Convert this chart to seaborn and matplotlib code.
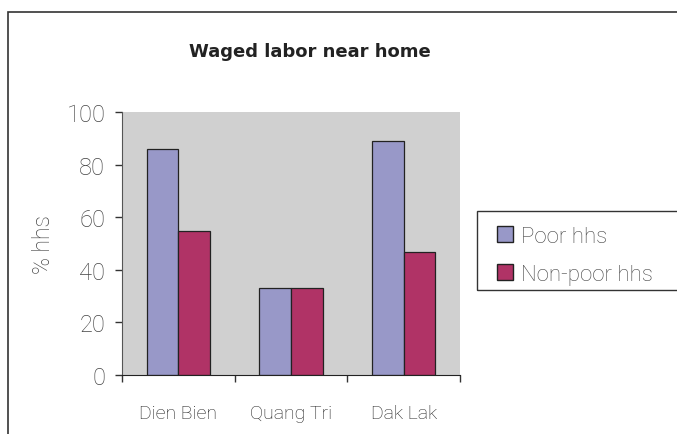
import matplotlib
matplotlib.use("Agg")
import matplotlib.pyplot as plt
from matplotlib.patches import Rectangle
import seaborn as sns
import pandas as pd

regions = ["Dien Bien", "Quang Tri", "Dak Lak"]
poor = [86, 33, 89]
nonpoor = [55, 33, 47]
series_names = ["Poor hhs", "Non-poor hhs"]
yticks = [0, 20, 40, 60, 80, 100]
title = "Waged labor near home"
ylabel = "% hhs"

df = pd.DataFrame({
    "region": regions * 2,
    "value": poor + nonpoor,
    "series": [series_names[0]] * 3 + [series_names[1]] * 3,
})

sns.set_style("white")
plt.rcParams['font.family'] = ['Roboto', 'DejaVu Sans']
LIGHT = "light"

fig = plt.figure(figsize=(6.77, 4.35), dpi=100)
ax = fig.add_axes([122/677, 1 - 376/435, (460-122)/677, (376-113.3)/435])
ax.set_facecolor("#D0D0D0")

sns.barplot(data=df, x="region", y="value", hue="series", ax=ax,
            palette=["#9898C8", "#B03366"], width=0.565,
            edgecolor="#222222", linewidth=0.9, saturation=1)

ax.set_ylim(0, 100)
ax.set_xlim(-0.5, 2.5)
ax.set_yticks(yticks)
ax.set_yticklabels([str(t) for t in yticks], fontsize=17, color="#444444", fontweight=LIGHT)
ax.set_xticks([-0.5, 0.5, 1.5, 2.5])
ax.set_xticklabels([])
ax.set_xticks([0, 1, 2], minor=True)
ax.set_xticklabels(regions, minor=True, fontsize=14, color="#222222", fontweight=LIGHT)
ax.tick_params(axis="x", which="major", length=5, width=1, color="#333333", direction="out", bottom=True)
ax.tick_params(axis="x", which="minor", length=0, pad=21)
ax.tick_params(axis="y", length=5, width=1, color="#333333", direction="out", left=True, pad=7)
ax.set_xlabel("")
ax.set_ylabel(ylabel, fontsize=16.5, color="#444444", labelpad=8, fontweight=LIGHT)

for side in ["top", "right"]:
    ax.spines[side].set_visible(False)
ax.spines["left"].set_color("#555555")
ax.spines["bottom"].set_color("#222222")

leg = ax.legend(loc="upper left", bbox_to_anchor=(497/677, 1 - 227/435),
                bbox_transform=fig.transFigure, frameon=False,
                prop={"size": 16, "weight": LIGHT},
                handlelength=0.72, handleheight=0.72, handletextpad=0.35,
                borderaxespad=0, labelspacing=0.75, borderpad=0)
for t in leg.get_texts():
    t.set_color("#444444")
for h in leg.legend_handles:
    h.set_edgecolor("#222222")
    h.set_linewidth(1)

fig.patches.append(Rectangle((477/677, 1 - 291/435), 1.0, 79/435, transform=fig.transFigure,
                             fill=False, edgecolor="#333333", linewidth=1))

fig.text(310/677, 1 - 52/435, title, ha="center", va="center", fontsize=13,
         fontweight="bold", color="#222222", family="DejaVu Sans")

fig.patches.append(Rectangle((8/677, -0.1), 1.2, 1 - 13/435 + 0.1, transform=fig.transFigure,
                             fill=False, edgecolor="#333333", linewidth=1.2))

fig.savefig("out.png", dpi=100)
